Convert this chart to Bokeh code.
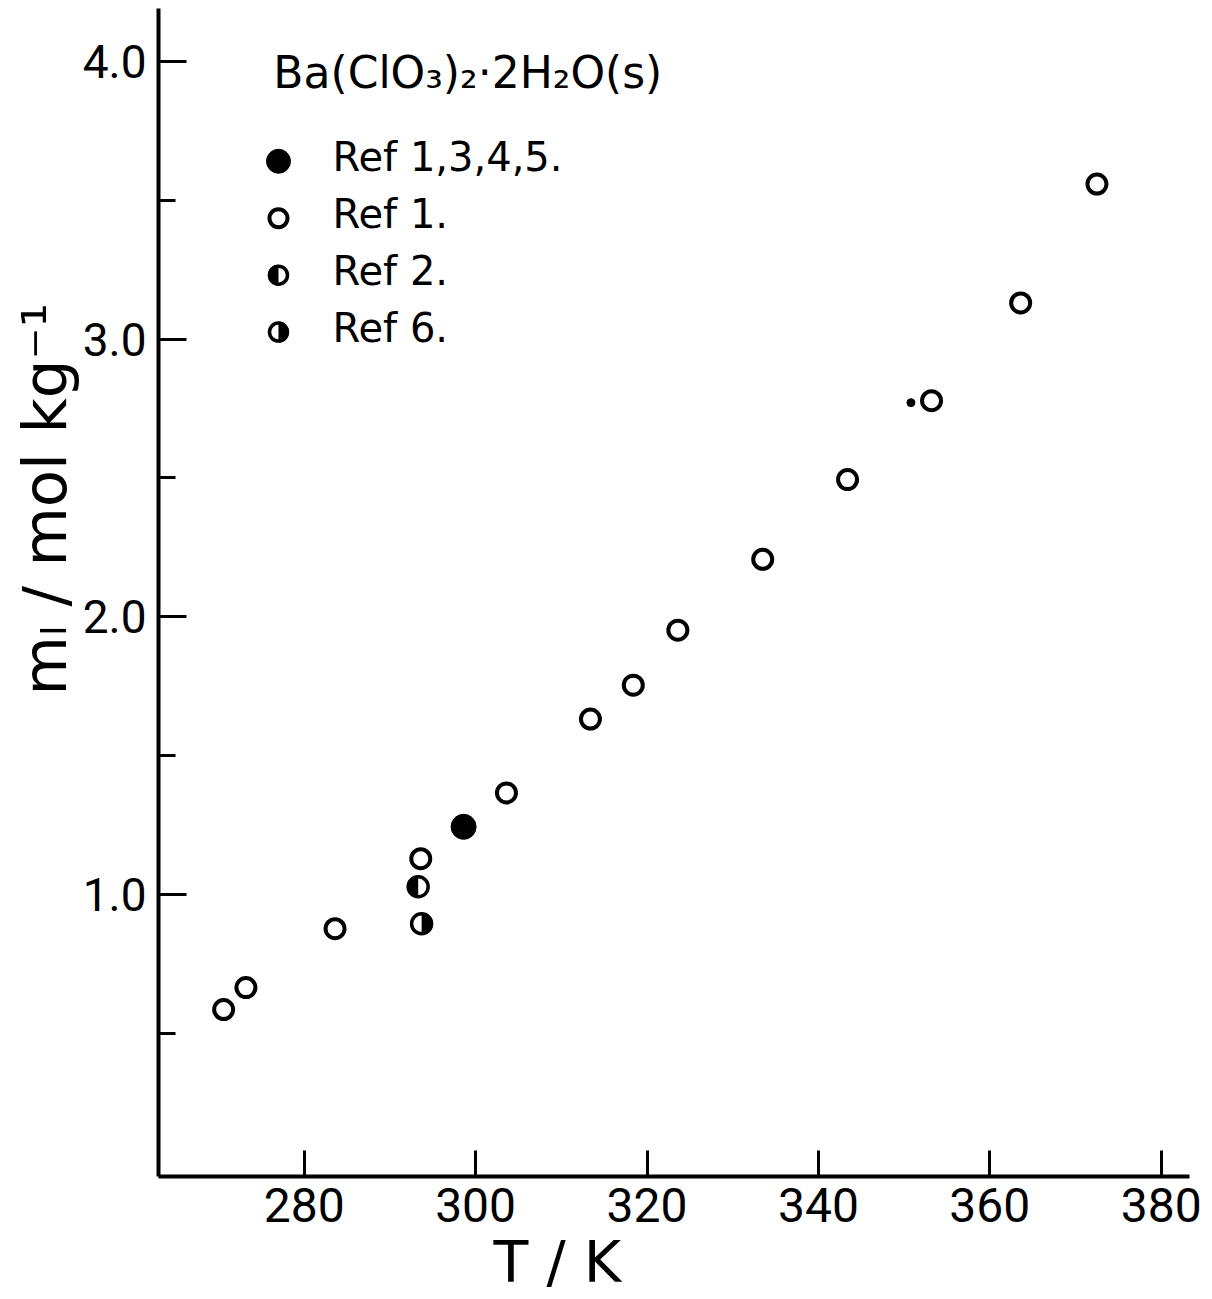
from math import pi
from bokeh.plotting import figure
from bokeh.models import Range1d, FixedTicker, Label, PrintfTickFormatter, Title
from bokeh.embed import file_html
from bokeh.resources import INLINE

# ---- data ----
ref1_T = [270.6, 273.2, 283.6, 293.6, 303.6, 313.4, 318.4, 323.6, 333.5, 343.4, 353.2, 363.6, 372.5]
ref1_m = [0.586, 0.665, 0.877, 1.129, 1.366, 1.632, 1.754, 1.952, 2.207, 2.494, 2.778, 3.130, 3.558]
ref1345_T = [298.6]
ref1345_m = [1.244]
ref2_T = [293.3]
ref2_m = [1.028]
ref6_T = [293.7]
ref6_m = [0.895]
dot_T = [350.8]
dot_m = [2.771]

x_ticks = [280, 300, 320, 340, 360, 380]
y_major = [1.0, 2.0, 3.0, 4.0]
y_minor = [0.5, 1.5, 2.5, 3.5]

title_text = "Ba(ClO₃)₂·2H₂O(s)"
legend_labels = ["Ref 1,3,4,5.", "Ref 1.", "Ref 2.", "Ref 6."]
x_label = "T / K"
y_label = "mₗ / mol  kg⁻¹"

TICK_FONT = "Roboto"
FONT = "DejaVu Sans"

p = figure(width=1212, height=1299, output_backend="svg", toolbar_location=None,
           x_range=Range1d(263.0, 383.3), y_range=Range1d(-0.015, 4.19),
           min_border_left=158, min_border_right=23, min_border_top=8, min_border_bottom=123)
p.outline_line_color = None
p.grid.visible = False
p.background_fill_color = "white"
p.border_fill_color = "white"

for ax in (p.xaxis, p.yaxis):
    ax.axis_line_width = 4
    ax.axis_line_color = "black"
    ax.major_tick_line_width = 3
    ax.minor_tick_line_width = 3
    ax.major_tick_out = 0
    ax.minor_tick_out = 0
    ax.major_label_text_font = TICK_FONT
    ax.major_label_text_color = "black"

p.xaxis.ticker = FixedTicker(ticks=x_ticks)
p.xaxis.major_tick_in = 26
p.xaxis.minor_tick_in = 0
p.xaxis.major_label_standoff = 11
p.xaxis.major_label_text_font_size = "48px"

p.yaxis.ticker = FixedTicker(ticks=y_major, minor_ticks=y_minor)
p.yaxis.formatter = PrintfTickFormatter(format="%.1f")
p.yaxis.major_tick_in = 28
p.yaxis.minor_tick_in = 17
p.yaxis.major_label_standoff = 12
p.yaxis.major_label_text_font_size = "46px"

# axis titles as side titles (so they may sit off-centre like the reference)
p.add_layout(Title(text=x_label, align="left", offset=335, standoff=4,
                   text_font=FONT, text_font_size="57px", text_font_style="normal",
                   text_color="black"), "below")
p.add_layout(Title(text=y_label, align="left", offset=481, standoff=0,
                   text_font=FONT, text_font_size="61px", text_font_style="normal",
                   text_color="black"), "left")

# ---- data marks ----
p.scatter(ref1_T, ref1_m, marker="circle", size=19, fill_color="white",
          line_color="black", line_width=4)
p.scatter(ref1345_T, ref1345_m, marker="circle", size=25, fill_color="black",
          line_color="black", line_width=1)
for xs, ys, a0, a1 in ((ref2_T, ref2_m, pi / 2, 3 * pi / 2), (ref6_T, ref6_m, -pi / 2, pi / 2)):
    p.scatter(xs, ys, marker="circle", size=20, fill_color="white", line_color="black", line_width=3.5)
    p.wedge(xs, ys, radius=11, radius_units="screen", start_angle=a0, end_angle=a1,
            fill_color="black", line_color=None)
p.scatter(dot_T, dot_m, marker="circle", size=8, fill_color="black", line_color="black")

# ---- legend drawn by hand ----
leg_x = 277.0
leg_text_x = 283.3
leg_y0 = 3.64
leg_dy = 0.205
leg_ys = [leg_y0 - i * leg_dy for i in range(4)]

p.scatter([leg_x], [leg_ys[0]], marker="circle", size=24, fill_color="black", line_color="black")
p.scatter([leg_x], [leg_ys[1]], marker="circle", size=18, fill_color="white", line_color="black", line_width=4)
for yy, a0, a1 in ((leg_ys[2], pi / 2, 3 * pi / 2), (leg_ys[3], -pi / 2, pi / 2)):
    p.scatter([leg_x], [yy], marker="circle", size=18, fill_color="white", line_color="black", line_width=3.5)
    p.wedge([leg_x], [yy], radius=10.5, radius_units="screen", start_angle=a0, end_angle=a1,
            fill_color="black", line_color=None)

for lab, yy in zip(legend_labels, leg_ys):
    p.add_layout(Label(x=leg_text_x, y=yy + 0.015, text=lab, text_font=FONT,
                       text_font_size="40px", text_baseline="middle", text_align="left",
                       text_color="black"))

p.add_layout(Label(x=276.4, y=3.96, text=title_text, text_font=FONT,
                   text_font_size="44px", text_baseline="middle", text_align="left",
                   text_color="black"))

open("out.html", "w").write(file_html(p, INLINE))
